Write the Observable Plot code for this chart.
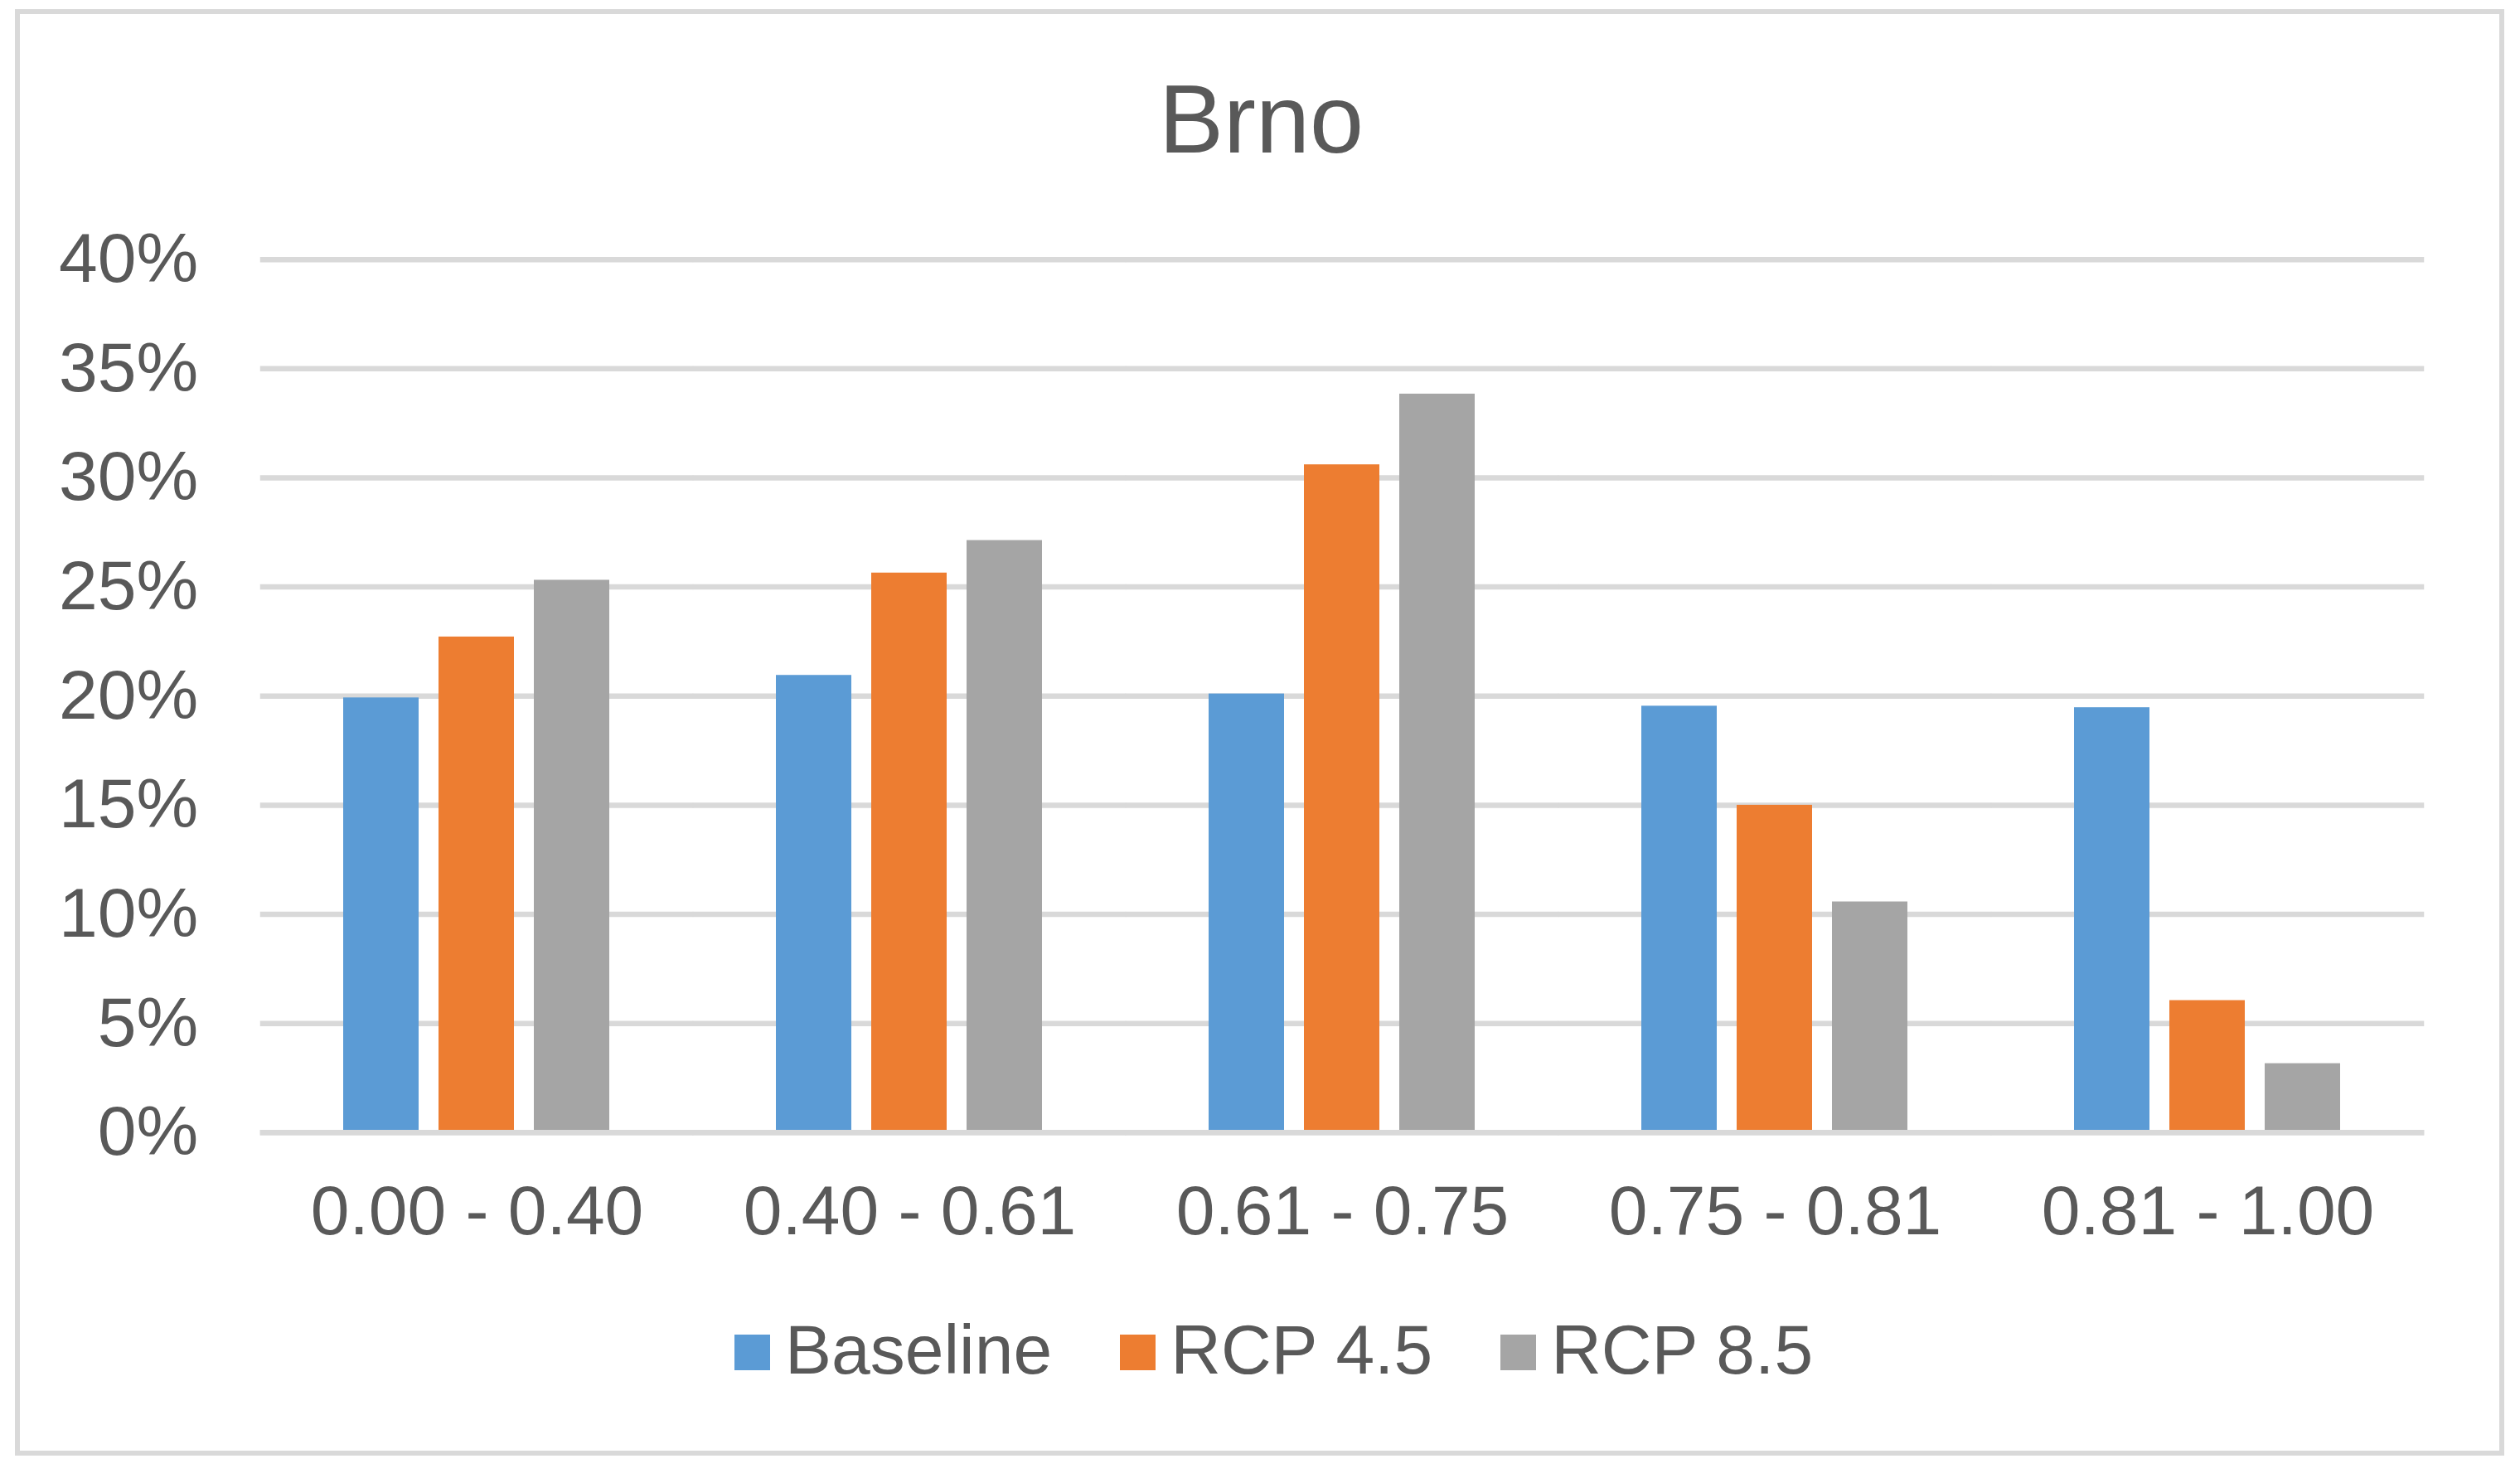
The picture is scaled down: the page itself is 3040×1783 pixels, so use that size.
<!DOCTYPE html>
<html>
<head>
<meta charset="utf-8">
<script src="https://cdn.jsdelivr.net/npm/d3@7"></script>
<script src="https://cdn.jsdelivr.net/npm/@observablehq/plot@0.6"></script>
<style>
  html, body { margin: 0; padding: 0; background: #ffffff; }
  #wrap { position: relative; width: 3040px; height: 1783px; background: #ffffff; overflow: hidden;
          font-family: 'Liberation Sans', Arial, sans-serif; color: #595959; }
  #frame { position: absolute; left: 18px; top: 11px; width: 3003px; height: 1745px;
           box-sizing: border-box; border: 6px solid #d9d9d9; }
  #title { position: absolute; left: 0; top: 85px; width: 3043px; text-align: center;
           font-size: 117px; line-height: 1; }
  #chart { position: absolute; left: 0; top: 0; }
  #legend { position: absolute; left: 886px; top: 1586px; display: flex; align-items: center;
            font-size: 84px; line-height: 1; white-space: nowrap; }
  .item { display: flex; align-items: center; margin-right: 82px; }
  .item:last-child { margin-right: 0; }
  .sw { width: 43px; height: 43px; margin-right: 18px; position: relative; top: 3px; }
</style>
</head>
<body>
<div id="wrap">
  <div id="frame"></div>
  <div id="title">Brno</div>
  <div id="chart"></div>
  <div id="legend"></div>
</div>
<script>
const categories = ["0.00 - 0.40", "0.40 - 0.61", "0.61 - 0.75", "0.75 - 0.81", "0.81 - 1.00"];
const series = ["Baseline", "RCP 4.5", "RCP 8.5"];
const baseline = [19.92, 20.95, 20.10, 19.54, 19.47];
const rcp45 = [22.71, 25.64, 30.60, 15.00, 6.05];
const rcp85 = [25.31, 27.13, 33.84, 10.57, 3.16];
const yTicks = [0, 5, 10, 15, 20, 25, 30, 35, 40];
const colors = ["#5b9bd5", "#ed7d31", "#a5a5a5"];

const valuesBySeries = [baseline, rcp45, rcp85];
const data = [];
categories.forEach((c, i) => {
  series.forEach((s, j) => {
    data.push({category: c, series: s, value: valuesBySeries[j][i]});
  });
});

const W = 3040, H = 1560;
const mL = 313, mR = 115;
const padIn = 0.38, padOut = 0.19;
// gridlines are drawn per facet, stretched over the facet gaps so they read as continuous
const step = (W - mL - mR) / (categories.length - padIn + 2 * padOut);
const outer = padOut * step;
const gridStyle = {stroke: "#d9d9d9", strokeWidth: 6.5, insetLeft: -outer, insetRight: -outer};

const chart = Plot.plot({
  width: W,
  height: H,
  marginLeft: mL,
  marginRight: mR,
  marginTop: 312.7,
  marginBottom: H - 1365.8,
  style: {
    fontFamily: "'Liberation Sans', Arial, sans-serif",
    color: "#595959",
    background: "transparent",
    overflow: "visible"
  },
  fx: {domain: categories, paddingInner: padIn, paddingOuter: padOut, label: null},
  x: {domain: series, paddingInner: 0.206, paddingOuter: 0, axis: null},
  y: {domain: [0, 40], label: null},
  color: {domain: series, range: colors},
  marks: [
    Plot.ruleY(yTicks, gridStyle),
    Plot.barY(data, {fx: "category", x: "series", y: "value", fill: "series"}),
    Plot.ruleY([0], gridStyle),
    Plot.axisY({ticks: yTicks, tickSize: 0, tickPadding: 75 + outer, fontSize: 84,
                tickFormat: d => d + "%", label: null}),
    Plot.axisFx({anchor: "bottom", tickSize: 0, tickPadding: 63, fontSize: 84, label: null})
  ]
});
document.getElementById("chart").appendChild(chart);

const legend = document.getElementById("legend");
series.forEach((s, i) => {
  const item = document.createElement("div");
  item.className = "item";
  const sw = document.createElement("div");
  sw.className = "sw";
  sw.style.background = colors[i];
  const t = document.createElement("span");
  t.textContent = s;
  item.appendChild(sw);
  item.appendChild(t);
  legend.appendChild(item);
});
</script>
</body>
</html>
